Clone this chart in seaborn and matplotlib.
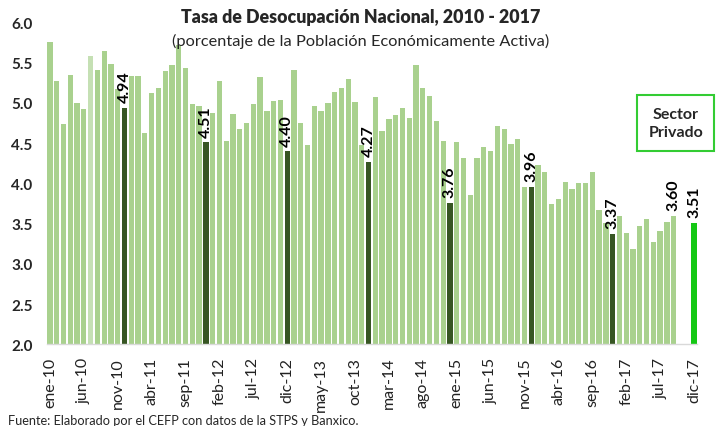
import numpy as np
import pandas as pd
import seaborn as sns
import matplotlib.pyplot as plt
from matplotlib.patches import Rectangle

# meses ene-10 .. dic-17
MESES = ['ene', 'feb', 'mar', 'abr', 'may', 'jun', 'jul', 'ago', 'sep', 'oct', 'nov', 'dic']
years = list(range(10, 18))
month_labels = [f"{m}-{y}" for y in years for m in MESES]

# tasa de desocupación nacional (ene-10 .. sep-17)
tasa_2010 = [5.75, 5.27, 4.74, 5.35, 5.00, 4.92, 5.58, 5.41, 5.65, 5.48, 5.17, 4.94]
tasa_2011 = [5.33, 5.33, 4.63, 5.12, 5.18, 5.40, 5.47, 5.72, 5.43, 4.99, 4.96, 4.51]
tasa_2012 = [4.87, 5.27, 4.52, 4.86, 4.67, 4.75, 4.99, 5.32, 4.90, 5.02, 5.04, 4.40]
tasa_2013 = [5.41, 4.75, 4.48, 4.96, 4.90, 5.00, 5.14, 5.18, 5.30, 5.01, 4.48, 4.27]
tasa_2014 = [5.07, 4.65, 4.80, 4.85, 4.94, 4.81, 5.47, 5.19, 5.09, 4.77, 4.53, 3.76]
tasa_2015 = [4.51, 4.32, 3.85, 4.31, 4.45, 4.40, 4.71, 4.67, 4.49, 4.55, 3.95, 3.96]
tasa_2016 = [4.23, 4.14, 3.74, 3.80, 4.02, 3.93, 4.00, 4.00, 4.14, 3.67, 3.51, 3.37]
tasa_2017 = [3.59, 3.38, 3.19, 3.47, 3.56, 3.27, 3.41, 3.52, 3.60]

# pronóstico del sector privado para dic-17
privado_mes = 'dic-17'
privado_valor = 3.51

observed = (tasa_2010 + tasa_2011 + tasa_2012 + tasa_2013 +
            tasa_2014 + tasa_2015 + tasa_2016 + tasa_2017)

LIGHT = '#a9d18e'
PALE = '#c5e0b4'
DARK = '#375623'
BRIGHT = '#14c814'

rows = []
for i, v in enumerate(observed):
    lab = month_labels[i]
    if lab.startswith('dic'):
        grp = DARK
    elif lab == 'jul-10':
        grp = PALE
    else:
        grp = LIGHT
    rows.append((lab, v, grp))
rows.append((privado_mes, privado_valor, BRIGHT))
df = pd.DataFrame(rows, columns=['mes', 'tasa', 'color'])
palette = dict(zip(df['mes'], df['color']))

sns.set_theme(style='white')
plt.rcParams['font.family'] = ['Lato', 'DejaVu Sans']

fig = plt.figure(figsize=(7.16, 4.27), dpi=100)
ax = fig.add_axes([0.065, 0.1913, 0.909, 0.754])

sns.barplot(data=df, x='mes', y='tasa', hue='mes', palette=palette,
            order=month_labels, legend=False, width=0.78,
            saturation=1, ax=ax, edgecolor='none')

# etiquetas en diciembre, último dato y sector privado
for i, row in df.iterrows():
    pos = month_labels.index(row['mes'])
    if row['mes'].startswith('dic') or i == len(observed) - 1:
        ax.annotate(f"{row['tasa']:.2f}", (pos, row['tasa']),
                    xytext=(0, 4), textcoords='offset points',
                    rotation=90, ha='center', va='bottom',
                    fontsize=11.5, fontweight='bold', color='black')

ax.set_ylim(2.0, 6.0)
ax.set_xlim(-0.5, len(month_labels) - 0.5)
yt = np.arange(2.0, 6.01, 0.5)
ax.set_yticks(yt)
ax.set_yticklabels([f"{v:.1f}" for v in yt], fontsize=11, fontweight='bold')
tick_pos = list(range(0, len(month_labels), 5))
ax.set_xticks(tick_pos)
ax.set_xticklabels([month_labels[p] for p in tick_pos], rotation=90, fontsize=11.5,
                   color='#222222')
ax.set_xticks([p - 0.5 for p in tick_pos], minor=True)
ax.tick_params(axis='x', which='major', length=0, pad=9)
ax.tick_params(axis='x', which='minor', length=4, color='#d0d0d0', width=1)
ax.tick_params(axis='y', length=0, pad=10)
ax.set_xlabel('')
ax.set_ylabel('')

for s in ['top', 'right', 'left']:
    ax.spines[s].set_visible(False)
ax.spines['bottom'].set_color('#d9d9d9')
ax.spines['bottom'].set_linewidth(1)

fig.text(0.504, 0.958, 'Tasa de Desocupación Nacional, 2010 - 2017',
         ha='center', va='center', fontsize=12.8, fontweight='heavy')
fig.text(0.504, 0.902, '(porcentaje de la Población Económicamente Activa)',
         ha='center', va='center', fontsize=11.8)

fig.patches.append(Rectangle((0.8897, 0.6433), 0.108, 0.1326,
                             transform=fig.transFigure, fill=False,
                             edgecolor='#33cc33', linewidth=1.5))
fig.text(0.944, 0.7096, 'Sector\nPrivado', ha='center', va='center',
         fontsize=11.5, fontweight='bold', linespacing=1.4)

fig.text(0.011, 0.027, 'Fuente: Elaborado por el CEFP con datos de la STPS y Banxico.',
         ha='left', va='top', fontsize=9.2)

fig.savefig('out.png', dpi=100)
